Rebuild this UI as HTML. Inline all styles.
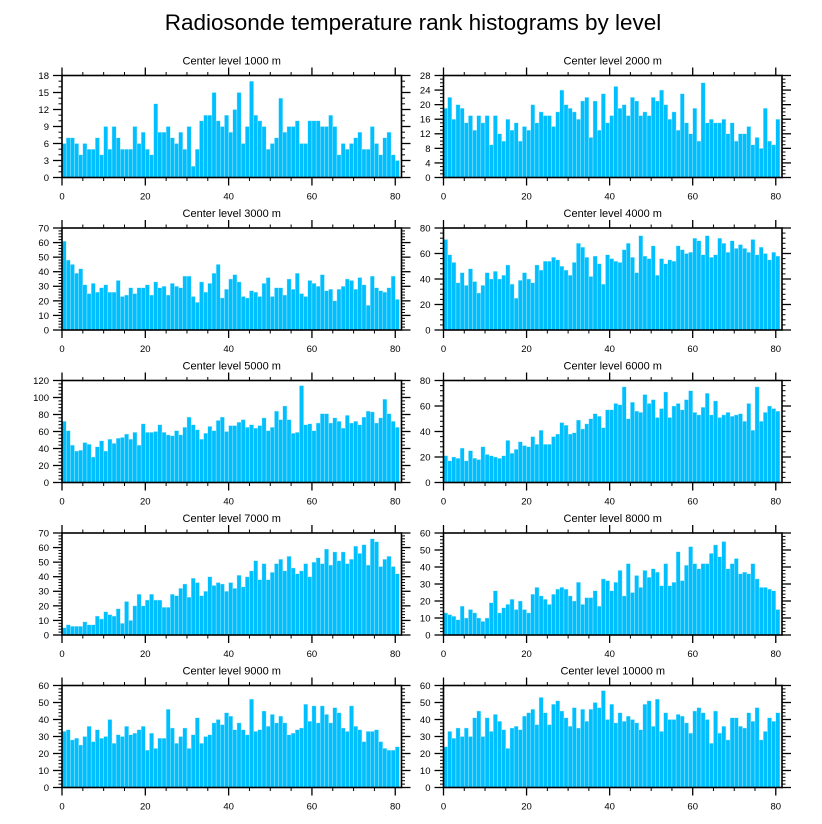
<!DOCTYPE html>
<html><head><meta charset="utf-8">
<style>
html,body{margin:0;padding:0;background:#fff;}
svg{display:block;font-family:"Liberation Sans",sans-serif;}
</style></head>
<body>
<svg id="chart" width="822" height="824" viewBox="0 0 822 824" xmlns="http://www.w3.org/2000/svg">
<rect width="822" height="824" fill="#fff"/>
<text x="413" y="30" text-anchor="middle" font-size="22.5" fill="#000">Radiosonde temperature rank histograms by level</text>
</svg>
<script>
const levels = [1000,2000,3000,4000,5000,6000,7000,8000,9000,10000];
const yMaxes = [18,28,70,80,120,80,70,60,60,60];
const yMajorSteps = [3,4,10,20,20,20,10,10,10,10];
const yMinorSteps = [1,1,2,4,4,4,2,2,2,2];
const xTickLabels = [0,20,40,60,80];
const counts1000 = [6,7,7,6,4,6,5,5,7,4,9,5,9,7,5,5,5,9,6,8,5,4,13,8,8,9,7,6,8,5,9,2,5,10,11,11,15,10,9,11,8,12,15,6,9,17,11,10,9,5,6,7,14,8,9,9,10,6,6,10,10,10,9,9,11,9,4,6,5,6,7,8,5,5,9,6,4,7,8,4,3];
const counts2000 = [19,22,16,20,19,15,17,13,17,15,17,9,17,12,10,16,13,15,10,14,13,20,15,18,17,17,14,18,24,20,19,18,16,21,22,11,21,13,23,15,17,25,19,20,17,22,21,17,18,17,22,21,24,20,16,18,13,23,15,12,19,10,26,15,16,15,15,16,12,15,10,12,12,14,9,11,8,19,10,9,16];
const counts3000 = [61,48,45,39,42,31,25,32,26,29,31,26,26,34,23,24,29,25,29,29,31,24,33,29,30,24,32,30,29,37,37,23,19,33,26,32,39,45,22,28,35,38,33,23,22,27,26,23,32,36,23,29,29,24,35,28,39,25,23,34,32,30,38,27,28,20,28,30,35,34,28,36,31,17,37,29,27,26,29,37,21];
const counts4000 = [71,59,53,37,45,35,48,38,29,35,45,40,46,40,43,51,36,25,39,45,40,37,51,47,54,54,57,55,50,47,43,53,68,65,57,42,58,52,36,59,56,54,53,63,68,57,45,74,58,56,66,43,56,52,55,54,66,63,60,61,72,70,59,74,57,59,72,68,61,70,64,67,64,61,71,59,65,60,55,61,58];
const counts5000 = [72,61,44,37,38,47,45,30,42,49,37,51,46,52,53,57,51,59,44,69,59,59,60,68,59,56,55,61,56,65,77,68,62,51,58,66,61,73,77,60,67,67,71,74,65,68,64,67,76,61,65,84,74,90,74,58,59,114,68,69,61,70,81,81,70,76,72,64,79,70,72,68,77,84,83,70,76,98,81,72,65];
const counts6000 = [21,17,20,19,27,17,25,19,18,28,22,21,20,19,21,33,23,26,32,29,28,36,30,41,30,30,36,38,47,45,38,39,49,42,46,50,54,52,43,57,57,62,61,75,50,63,56,55,69,62,65,51,58,71,51,60,62,57,65,72,55,53,59,70,53,64,51,53,55,52,53,54,48,62,41,75,48,55,60,58,56];
const counts7000 = [5,7,6,6,6,9,7,7,13,11,16,14,13,18,8,23,10,20,28,20,24,28,24,24,19,19,28,27,32,35,26,39,36,27,30,40,34,36,35,30,36,32,41,33,40,44,51,38,49,38,43,49,52,44,54,46,42,44,49,40,50,53,49,59,48,57,51,57,49,52,61,56,62,48,66,64,47,52,54,47,42];
const counts8000 = [13,12,11,9,17,10,15,13,10,8,10,19,26,13,16,18,21,15,20,15,13,24,28,23,21,18,24,27,28,27,23,20,31,18,22,22,26,17,33,32,26,31,38,23,42,25,35,28,38,34,39,37,29,42,29,31,49,32,41,52,42,39,42,42,48,53,46,55,39,42,45,36,37,36,42,33,28,28,27,26,15];
const counts9000 = [33,34,28,29,25,30,36,27,34,29,30,40,26,31,30,36,31,32,34,36,22,32,23,29,29,46,35,26,30,35,23,31,41,26,30,31,38,40,37,44,42,34,38,34,31,52,33,34,45,36,43,38,42,38,31,32,34,35,49,39,48,38,48,43,38,47,44,35,33,48,36,34,27,33,33,34,27,23,22,22,24];
const counts10000 = [24,33,29,35,30,35,30,41,45,30,41,33,43,39,34,23,35,36,34,42,44,46,37,53,44,37,49,51,45,41,36,47,35,46,39,46,50,47,57,40,49,38,44,39,42,40,38,34,49,51,36,52,33,44,40,40,43,42,38,32,45,47,44,40,26,45,32,36,28,41,41,36,35,44,39,47,28,33,41,39,44];
const allCounts = [counts1000,counts2000,counts3000,counts4000,counts5000,counts6000,counts7000,counts8000,counts9000,counts10000];

const NS = "http://www.w3.org/2000/svg";
const svg = document.getElementById('chart');
function mk(tag, attrs, parent){
  const e = document.createElementNS(NS, tag);
  for (const k in attrs) e.setAttribute(k, attrs[k]);
  (parent||svg).appendChild(e);
  return e;
}
const XMAX = 81.5;
for (let p = 0; p < 10; p++) {
  const col = p % 2, row = Math.floor(p / 2);
  const L = col === 0 ? 62 : 443.5, R = col === 0 ? 401.5 : 782;
  const T = 75.5 + row * 152.5, B = T + 102;
  const ymax = yMaxes[p];
  const xs = v => L + (v / XMAX) * (R - L);
  const ys = v => B - (v / ymax) * (B - T);
  const g = mk('g', {});
  
  
  const t = mk('text', {x: (L + R) / 2, y: T - 11, 'text-anchor': 'middle', 'font-size': 11, fill: '#000'}, g);
  
  
  t.textContent = 'Center level ' + levels[p] + ' m';
  const data = allCounts[p];
  for (let i = 0; i < data.length; i++) {
    const r = mk('rect', {x: xs(i), y: ys(data[i]), width: xs(i + 1) - xs(i), height: ys(0) - ys(data[i]), fill: '#00BFFF', stroke: '#bfefff', 'stroke-width': 0.4}, g);
    
    
  }
  for (let v = 0; v <= ymax + 1e-9; v += yMinorSteps[p]) {
    const major = Math.abs(v / yMajorSteps[p] - Math.round(v / yMajorSteps[p])) < 1e-6;
    const len = major ? 9 : 3.5;
    mk('line', {x1: L - len, x2: L, y1: ys(v), y2: ys(v), stroke: '#000', 'stroke-width': major ? 1.3 : 1}, g);
    mk('line', {x1: R, x2: R + len, y1: ys(v), y2: ys(v), stroke: '#000', 'stroke-width': major ? 1.3 : 1}, g);
    if (major) {
      const lb = mk('text', {x: L - 13, y: ys(v) + 3.4, 'text-anchor': 'end', 'font-size': 9.5, fill: '#000'}, g);
      
      
      lb.textContent = v;
    }
  }
  for (let v = 0; v <= 80; v += 5) {
    const major = v % 20 === 0;
    const len = major ? 8 : 3.5;
    mk('line', {x1: xs(v), x2: xs(v), y1: B, y2: B + len, stroke: '#000', 'stroke-width': major ? 1.3 : 1}, g);
    mk('line', {x1: xs(v), x2: xs(v), y1: T - len, y2: T, stroke: '#000', 'stroke-width': major ? 1.3 : 1}, g);
  }
  for (const v of xTickLabels) {
    const lb = mk('text', {x: xs(v), y: B + 22, 'text-anchor': 'middle', 'font-size': 9.5, fill: '#000'}, g);
    
    
    lb.textContent = v;
  }
  const fr = mk('rect', {x: L, y: T, width: R - L, height: B - T, fill: 'none', stroke: '#000', 'stroke-width': 1.6}, g);
  
  
}
</script>
</body></html>
